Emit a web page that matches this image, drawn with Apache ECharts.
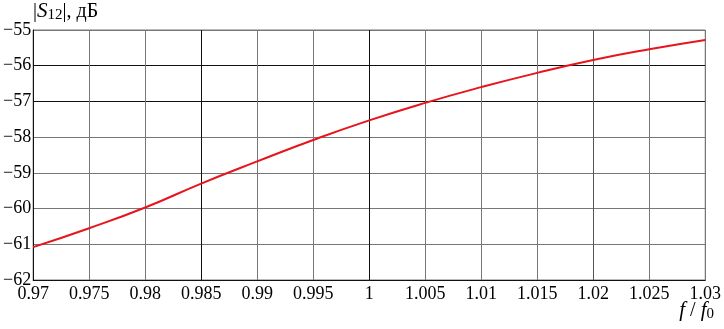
<!DOCTYPE html>
<html>
<head>
<meta charset="utf-8">
<script src="https://cdn.jsdelivr.net/npm/echarts@6/dist/echarts.min.js"></script>
<style>
  html, body { margin: 0; padding: 0; background: #fff; }
  #chart { width: 724px; height: 329px; }
</style>
</head>
<body>
<div id="chart"></div>
<script>
// f / f0 points and |S12| (dB)
const freq = [0.97, 0.975, 0.98, 0.985, 0.99, 0.995, 1.0, 1.005, 1.01, 1.015, 1.02, 1.025, 1.03]
const s12 = [-61.08, -60.55, -59.97, -59.3, -58.68, -58.08, -57.53, -57.04, -56.6, -56.2, -55.84, -55.54, -55.28]

const xTicks = [0.97, 0.975, 0.98, 0.985, 0.99, 0.995, 1, 1.005, 1.01, 1.015, 1.02, 1.025, 1.03]
const yTicks = [-62, -61, -60, -59, -58, -57, -56, -55]

const font = 'Liberation Serif'
const grey = '#777'
const dark = '#111'

const chart = echarts.init(document.getElementById('chart'))

chart.setOption({
  animation: false,
  textStyle: { fontFamily: font },
  grid: {
    left: 33,
    right: 17,
    top: 30,
    bottom: 49,
    show: true,
    borderColor: grey,
    borderWidth: 1
  },
  xAxis: {
    type: 'value',
    min: 0.97,
    max: 1.03,
    interval: 0.005,
    axisLine: { show: true, lineStyle: { color: dark, width: 1 } },
    axisTick: { show: false },
    splitLine: {
      show: true,
      lineStyle: {
        // darker lines at 0.985, 1, 1.02
        color: [grey, grey, grey, dark, grey, grey, dark, grey, grey, grey, '#555', grey, grey],
        width: 1
      }
    },
    axisLabel: {
      color: '#000',
      fontFamily: font,
      fontSize: 18,
      margin: 5,
      showMinLabel: true,
      showMaxLabel: true,
      formatter: v => String(parseFloat(v.toFixed(3)))
    }
  },
  yAxis: {
    type: 'value',
    min: -62,
    max: -55,
    interval: 1,
    axisLine: { show: true, lineStyle: { color: dark, width: 1 } },
    axisTick: { show: false },
    splitLine: {
      show: true,
      lineStyle: {
        // from -62 upward: -57 and -56 darker
        color: [grey, grey, grey, grey, grey, dark, dark, grey],
        width: 1
      }
    },
    axisLabel: {
      color: '#000',
      fontFamily: font,
      fontSize: 18,
      margin: 2,
      formatter: v => String(v).replace('-', '\u2212')
    }
  },
  graphic: [
    {
      type: 'text',
      left: 33,
      top: 1,
      style: {
        text: '|{i|S}{sub|12}|, дБ',
        fill: '#000',
        fontFamily: font,
        fontSize: 20,
        rich: {
          i: { fontStyle: 'italic', fontFamily: font, fontSize: 21 },
          sub: { fontFamily: font, fontSize: 15, padding: [8, 0, 0, 0] }
        }
      }
    },
    {
      type: 'text',
      right: 10,
      top: 300,
      style: {
        text: '{i|f} / {i|f}{sub|0}',
        fill: '#000',
        fontFamily: font,
        fontSize: 20,
        rich: {
          i: { fontStyle: 'italic', fontFamily: font, fontSize: 21 },
          sub: { fontFamily: font, fontSize: 15, padding: [8, 0, 0, 0] }
        }
      }
    }
  ],
  series: [
    {
      type: 'line',
      data: freq.map((f, i) => [f, s12[i]]),
      smooth: true,
      showSymbol: false,
      lineStyle: { color: '#e8141c', width: 2 }
    }
  ]
})
</script>
</body>
</html>
